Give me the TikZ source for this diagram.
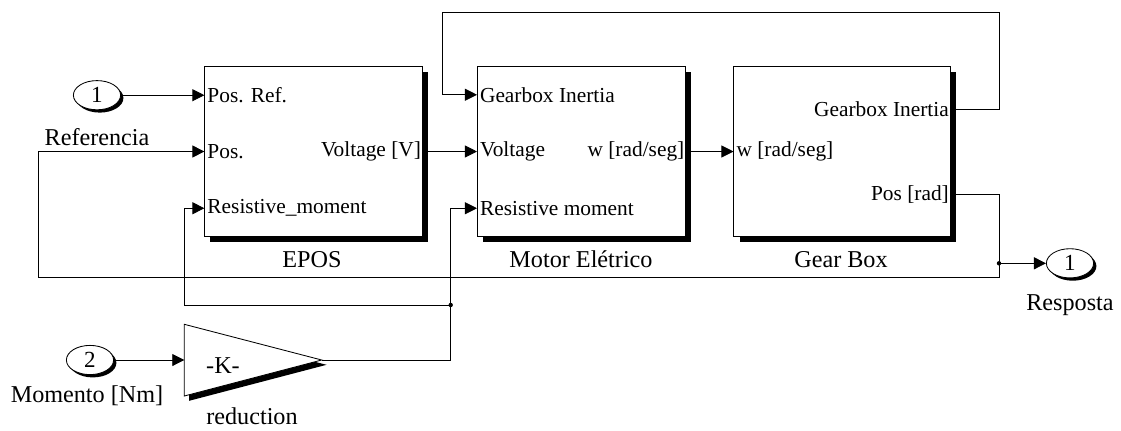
\documentclass[tikz,border=0pt]{standalone}
\usepackage{fontspec}
\setmainfont{Liberation Serif}
\usetikzlibrary{arrows.meta,calc,shadows,shapes.geometric}

\tikzset{
  block/.style={draw, fill=white, line width=0.7pt, minimum height=4.23cm, inner sep=0pt,
    drop shadow={shadow xshift=0.14cm, shadow yshift=-0.14cm, fill=black, opacity=1}},
  port/.style={ellipse, draw, fill=white, line width=0.6pt, minimum width=1.18cm,
    minimum height=0.73cm, inner sep=0pt, font=\fontsize{16.4}{18}\selectfont,
    drop shadow={shadow xshift=0.07cm, shadow yshift=-0.07cm, fill=black, opacity=1}},
  gain/.style={draw, fill=white, line width=0.6pt,
    drop shadow={shadow xshift=0.12cm, shadow yshift=-0.12cm, fill=black, opacity=1}},
  portin/.style={anchor=west, inner sep=2pt, font=\fontsize{15.2}{17}\selectfont},
  portout/.style={anchor=east, inner sep=1pt, font=\fontsize{15.2}{17}\selectfont},
  caption/.style={font=\fontsize{17.2}{19}\selectfont},
  sig/.style={line width=0.6pt, -{Triangle[length=0.3cm, width=0.3cm]}},
  dot/.style={circle, fill, inner sep=0pt, minimum size=0.11cm}
}

\begin{document}
\begin{tikzpicture}[x=0.025cm, y=-0.025cm]
    \useasboundingbox (0,0) rectangle (1121,430);

    % Blocks
    \node[block, minimum width=5.43cm] (epos) at (313.5,151.5) {};
    \node[block, minimum width=5.2cm] (motor) at (581.5,151.5) {};
    \node[block, minimum width=5.4cm] (gear) at (842,151.5) {};
    \node[caption] (eposname) at (312,260) {EPOS};
    \node[caption] (motorname) at (581,259) {Motor Elétrico};
    \node[caption] (gearname) at (841,260) {Gear Box};

    % Port points
    \coordinate (e1) at ($(epos.north west)!1/6!(epos.south west)$);
    \coordinate (e3) at ($(epos.north west)!5/6!(epos.south west)$);
    \coordinate (m1) at ($(motor.north west)!1/6!(motor.south west)$);
    \coordinate (m3) at ($(motor.north west)!5/6!(motor.south west)$);
    \coordinate (g1) at ($(gear.north east)!1/4!(gear.south east)$);
    \coordinate (g2) at ($(gear.north east)!3/4!(gear.south east)$);

    % Port labels
    \node[portin] (eposref) at (e1) {Pos. Ref.};
    \node[portin] (epospos) at (epos.west) {Pos.};
    \node[portin] (eposres) at (e3) {Resistive\_moment};
    \node[portout] (eposvolt) at (epos.east) {Voltage [V]};
    \node[portin] (motorgear) at (m1) {Gearbox Inertia};
    \node[portin] (motorvolt) at (motor.west) {Voltage};
    \node[portin] (motorres) at (m3) {Resistive moment};
    \node[portout] (motorw) at (motor.east) {w [rad/seg]};
    \node[portin] (gearw) at (gear.west) {w [rad/seg]};
    \node[portout] (geargear) at (g1) {Gearbox Inertia};
    \node[portout] (gearpos) at (g2) {Pos [rad]};

    % In and out ports
    \node[port] (in1) at (97,95.2) {1};
    \node[caption] (in1name) at (97,137) {Referencia};
    \node[port] (in2) at (90,360) {2};
    \node[caption] (in2name) at (87,396) {Momento [Nm]};
    \node[port] (out1) at (1070,263.3) {1};
    \node[caption] (out1name) at (1070,305) {Resposta};

    % Gain
    \coordinate (gaintop) at (184.3,324.3);
    \coordinate (gainbot) at (184.3,396);
    \coordinate (gaintip) at (321.7,360);
    \coordinate (gainin) at (184.3,360);
    \draw[gain] (gaintop) -- (gaintip) -- (gainbot) -- cycle;
    \node[caption] (gaink) at (223,366) {-K-};
    \node[caption] (gainname) at (252,416) {reduction};

    % Corners
    \coordinate (topR) at (999,12);
    \coordinate (topL) at (442,12);
    \coordinate (posR) at (999,277);
    \coordinate (posL) at (38,277);
    \coordinate (jpos) at (posR |- out1);
    \coordinate (jres) at (450.7,305);
    \coordinate (resL) at (184.3,305);

    % Signals
    \draw[sig] (in1.east) -- (in1.east -| epos.west);
    \draw[sig] (epos.east) -- (motor.west);
    \draw[sig] (motor.east) -- (gear.west);
    \draw[sig] (g1) -| (topR) -- (topL) |- (m1);
    \draw[sig] (g2) -| (posR) -- (posL) |- (epos.west);
    \draw[sig] (jpos) -- (out1);
    \draw[sig] (in2) -- (gainin);
    \draw[sig] (gaintip) -| (jres) |- (m3);
    \draw[sig] (jres) -- (resL) |- (e3);
    \node[dot] (dotpos) at (jpos) {};
    \node[dot] (dotres) at (jres) {};
\end{tikzpicture}
\end{document}
